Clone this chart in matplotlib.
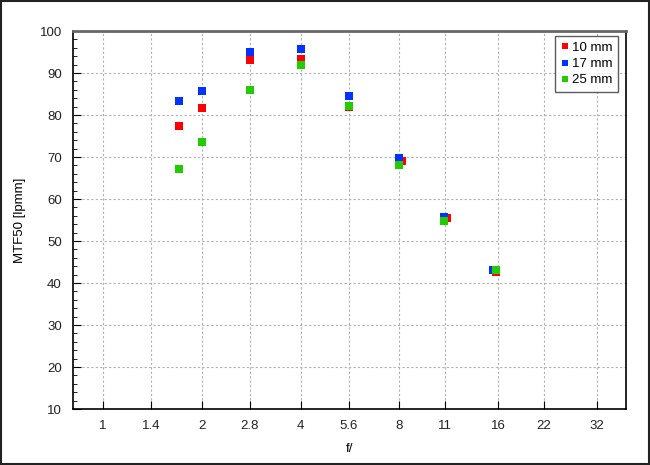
import matplotlib.pyplot as plt
from matplotlib.ticker import MultipleLocator, NullLocator, FixedLocator, FixedFormatter
from matplotlib.patches import Rectangle

plt.rcParams['font.family'] = ['Liberation Sans', 'DejaVu Sans']

# f-numbers and MTF50 values
fnum_10 = [1.7, 2, 2.8, 4, 5.6, 8.15, 11.2, 15.8]
mtf_10 = [77.5, 81.7, 93.0, 93.3, 81.8, 69.1, 55.5, 42.6]
fnum_17 = [1.7, 2, 2.8, 4, 5.6, 8, 10.9, 15.4]
mtf_17 = [83.4, 85.6, 94.9, 95.8, 84.6, 69.7, 55.8, 43.1]
fnum_25 = [1.7, 2, 2.8, 4, 5.6, 8, 10.9, 15.8]
mtf_25 = [67.2, 73.5, 86.0, 92.0, 82.2, 68.2, 54.8, 43.1]

xtick_vals = [1, 1.4, 2, 2.8, 4, 5.6, 8, 11, 16, 22, 32]
xtick_labels = ['1', '1.4', '2', '2.8', '4', '5.6', '8', '11', '16', '22', '32']

fig = plt.figure(figsize=(6.5, 4.65), dpi=100)
ax = fig.add_axes([0.1123, 0.1204, 0.8507, 0.8129])

ax.plot(fnum_10, mtf_10, 's', color='#ff0000', markersize=5.3, markeredgewidth=0, label='10 mm')
ax.plot(fnum_17, mtf_17, 's', color='#0033ff', markersize=5.3, markeredgewidth=0, label='17 mm')
ax.plot(fnum_25, mtf_25, 's', color='#22cc00', markersize=5.3, markeredgewidth=0, label='25 mm')

ax.set_xscale('log', base=2)
ax.set_xlim(0.81, 39.2)
ax.set_ylim(10, 100)
ax.xaxis.set_major_locator(FixedLocator(xtick_vals))
ax.xaxis.set_major_formatter(FixedFormatter(xtick_labels))
ax.xaxis.set_minor_locator(NullLocator())
ax.yaxis.set_major_locator(MultipleLocator(10))
ax.yaxis.set_minor_locator(MultipleLocator(2))

ax.tick_params(axis='both', which='both', direction='in', labelsize=9.5,
               color='black', labelcolor='#222222')
ax.tick_params(axis='x', which='major', length=6, pad=8)
ax.tick_params(axis='y', which='major', length=6, pad=8)
ax.tick_params(axis='y', which='minor', length=3)

ax.grid(True, which='major', linestyle=(0, (2, 2)), color='#b0b0b0', linewidth=0.8)
ax.set_axisbelow(True)

for side in ['left', 'bottom', 'right']:
    ax.spines[side].set_color('black')
    ax.spines[side].set_linewidth(1.2)
ax.spines['top'].set_color('#666666')
ax.spines['top'].set_linewidth(2)

ax.set_xlabel('f/', fontsize=9.5, labelpad=8)
ax.set_ylabel('MTF50 [lpmm]', fontsize=9.5, labelpad=10)

leg = ax.legend(loc='upper right', fontsize=9.5, frameon=True, fancybox=False,
                handlelength=0.5, handletextpad=0.3, borderpad=0.45,
                labelspacing=0.3, markerscale=0.9, borderaxespad=0,
                bbox_to_anchor=(0.986, 0.987))
leg.get_frame().set_edgecolor('#333333')
leg.get_frame().set_linewidth(1.0)

fig.patches.append(Rectangle((0.002, 0.002), 0.996, 0.996, transform=fig.transFigure,
                             fill=False, edgecolor='#222222', linewidth=1.5))

fig.savefig('out.png', dpi=100)
